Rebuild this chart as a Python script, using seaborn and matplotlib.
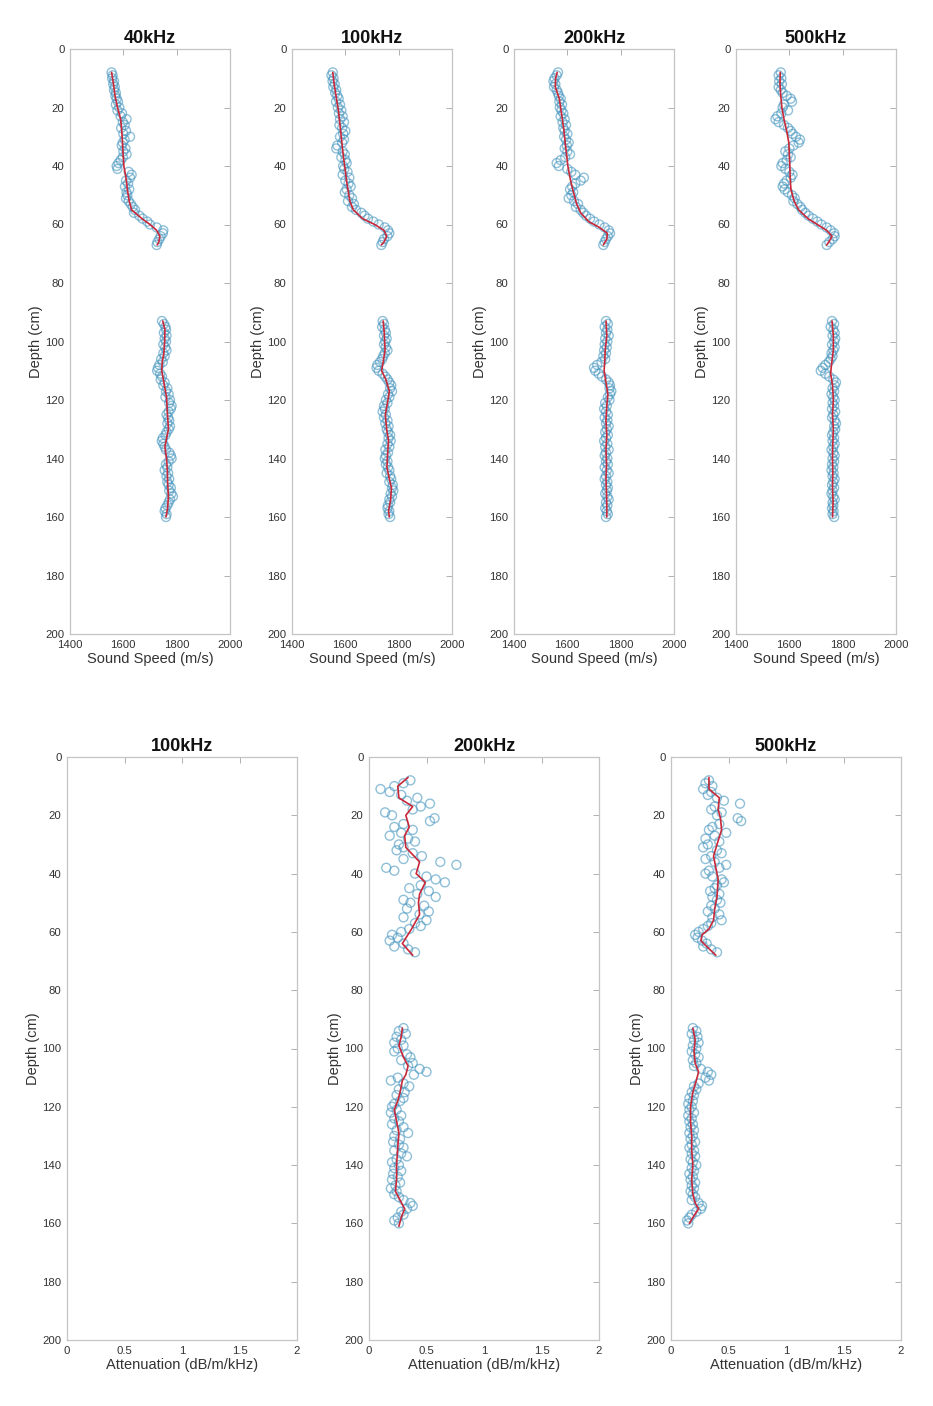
import matplotlib
matplotlib.use("Agg")
import matplotlib.pyplot as plt
import seaborn as sns
import numpy as np

# ---------------- data ----------------
DEPTH_UPPER = [8, 9, 10, 11, 12, 13, 14, 15, 16, 17, 18, 19, 20, 21, 22, 23, 24, 25, 26, 27,
               28, 29, 30, 31, 32, 33, 34, 35, 36, 37, 38, 39, 40, 41, 42, 43, 44, 45, 46, 47,
               48, 49, 50, 51, 52, 53, 54, 55, 56, 57, 58, 59, 60, 61, 62, 63, 64, 65, 66, 67]
DEPTH_LOWER = [93, 94, 95, 96, 97, 98, 99, 100, 101, 102, 103, 104, 105, 106, 107, 108, 109,
               110, 111, 112, 113, 114, 115, 116, 117, 118, 119, 120, 121, 122, 123, 124, 125,
               126, 127, 128, 129, 130, 131, 132, 133, 134, 135, 136, 137, 138, 139, 140, 141,
               142, 143, 144, 145, 146, 147, 148, 149, 150, 151, 152, 153, 154, 155, 156, 157,
               158, 159, 160]

SPEED_TITLES = ["40kHz", "100kHz", "200kHz", "500kHz"]
ATT_TITLES = ["100kHz", "200kHz", "500kHz"]

# Sound speed scatter (m/s)
ss40_up = [1556, 1560, 1558, 1565, 1562, 1568, 1565, 1572, 1570, 1575, 1580, 1572, 1585, 1578, 1595, 1590, 1612, 1598, 1605, 1592,
           1610, 1600, 1625, 1605, 1598, 1594, 1608, 1600, 1612, 1598, 1590, 1582, 1575, 1578, 1620, 1631, 1625, 1610, 1618, 1606,
           1622, 1612, 1615, 1610, 1620, 1628, 1635, 1644, 1640, 1660, 1672, 1690, 1700, 1725, 1750, 1748, 1740, 1735, 1728, 1725]
ss40_lo = [1745, 1752, 1758, 1760, 1752, 1762, 1755, 1760, 1750, 1757, 1762, 1750, 1755, 1742, 1748, 1735, 1730, 1727, 1738, 1745,
           1740, 1755, 1750, 1765, 1760, 1770, 1758, 1775, 1772, 1781, 1778, 1770, 1762, 1768, 1772, 1765, 1775, 1770, 1762, 1758,
           1748, 1744, 1750, 1755, 1760, 1772, 1778, 1781, 1770, 1760, 1765, 1755, 1768, 1762, 1772, 1765, 1770, 1778, 1772, 1780,
           1786, 1775, 1770, 1765, 1758, 1755, 1762, 1760]
ss100_up = [1553, 1548, 1556, 1552, 1560, 1555, 1566, 1562, 1570, 1575, 1565, 1580, 1572, 1585, 1576, 1590, 1580, 1595, 1578, 1588,
            1600, 1592, 1580, 1595, 1588, 1570, 1566, 1590, 1598, 1585, 1600, 1605, 1592, 1596, 1608, 1590, 1615, 1600, 1612, 1620,
            1605, 1598, 1615, 1625, 1610, 1632, 1625, 1640, 1660, 1672, 1685, 1705, 1725, 1748, 1760, 1765, 1758, 1745, 1740, 1735]
ss100_lo = [1740, 1745, 1738, 1748, 1752, 1745, 1755, 1750, 1745, 1752, 1758, 1748, 1742, 1738, 1730, 1720, 1717, 1725, 1740, 1750,
            1758, 1765, 1772, 1768, 1775, 1760, 1765, 1752, 1758, 1745, 1748, 1740, 1752, 1745, 1758, 1750, 1762, 1755, 1760, 1768,
            1762, 1770, 1758, 1765, 1750, 1760, 1752, 1748, 1758, 1752, 1760, 1765, 1755, 1768, 1772, 1765, 1778, 1775, 1780, 1770,
            1775, 1765, 1768, 1760, 1758, 1765, 1762, 1768]
ss200_up = [1565, 1560, 1552, 1548, 1555, 1550, 1560, 1565, 1568, 1575, 1570, 1580, 1572, 1578, 1585, 1575, 1590, 1582, 1595, 1585,
            1590, 1600, 1588, 1595, 1605, 1598, 1590, 1600, 1610, 1592, 1575, 1560, 1568, 1600, 1615, 1630, 1662, 1650, 1630, 1618,
            1610, 1622, 1615, 1605, 1625, 1640, 1632, 1650, 1660, 1670, 1685, 1700, 1720, 1740, 1755, 1760, 1752, 1745, 1740, 1735]
ss200_lo = [1745, 1752, 1740, 1750, 1745, 1755, 1742, 1750, 1740, 1748, 1738, 1745, 1735, 1742, 1728, 1712, 1700, 1705, 1718, 1730,
            1745, 1755, 1760, 1758, 1765, 1760, 1752, 1758, 1742, 1748, 1738, 1745, 1752, 1740, 1750, 1745, 1755, 1748, 1742, 1752,
            1745, 1738, 1750, 1742, 1755, 1745, 1740, 1750, 1745, 1752, 1740, 1748, 1755, 1745, 1740, 1750, 1745, 1752, 1748, 1742,
            1750, 1755, 1745, 1750, 1742, 1748, 1752, 1745]
ss500_up = [1568, 1560, 1570, 1562, 1572, 1560, 1568, 1575, 1590, 1605, 1610, 1580, 1575, 1595, 1570, 1555, 1548, 1560, 1580, 1595,
            1605, 1612, 1625, 1640, 1635, 1615, 1600, 1585, 1595, 1605, 1590, 1575, 1570, 1585, 1600, 1612, 1605, 1590, 1580, 1575,
            1582, 1595, 1610, 1620, 1615, 1630, 1642, 1648, 1660, 1672, 1688, 1705, 1720, 1740, 1755, 1768, 1770, 1762, 1750, 1740]
ss500_lo = [1760, 1768, 1755, 1765, 1770, 1762, 1772, 1768, 1760, 1770, 1765, 1758, 1762, 1755, 1748, 1735, 1725, 1718, 1735, 1750,
            1765, 1775, 1770, 1762, 1768, 1758, 1765, 1770, 1762, 1768, 1760, 1772, 1765, 1760, 1770, 1775, 1768, 1772, 1765, 1760,
            1768, 1762, 1770, 1765, 1758, 1765, 1770, 1762, 1768, 1760, 1765, 1758, 1766, 1762, 1770, 1765, 1760, 1768, 1762, 1758,
            1765, 1770, 1762, 1765, 1760, 1766, 1762, 1768]

# Smoothed sound speed curves (depth nodes, values)
ln40_up_d = [8, 12, 16, 20, 24, 28, 32, 36, 40, 44, 48, 52, 55, 58, 60, 62, 64, 66, 67]
ln40_up_v = [1556, 1563, 1569, 1578, 1590, 1594, 1597, 1599, 1602, 1610, 1615, 1622, 1631, 1670, 1700, 1725, 1737, 1733, 1727]
ln40_lo_d = [93, 96, 100, 104, 107, 110, 114, 119, 124, 130, 136, 140, 144, 148, 153, 157, 160]
ln40_lo_v = [1748, 1756, 1755, 1752, 1746, 1744, 1752, 1762, 1765, 1769, 1756, 1762, 1765, 1766, 1769, 1766, 1760]
ln100_up_d = [8, 12, 16, 21, 26, 32, 37, 41, 46, 52, 55, 58, 60, 62, 64, 66, 67]
ln100_up_v = [1553, 1558, 1565, 1574, 1580, 1587, 1593, 1599, 1606, 1617, 1630, 1665, 1710, 1745, 1755, 1745, 1735]
ln100_lo_d = [93, 97, 103, 107, 110, 113, 117, 121, 125, 130, 134, 139, 143, 147, 150, 154, 158, 160]
ln100_lo_v = [1742, 1746, 1749, 1742, 1736, 1752, 1765, 1758, 1750, 1755, 1762, 1758, 1756, 1765, 1773, 1770, 1762, 1765]
ln200_up_d = [8, 10, 13, 17, 22, 27, 32, 36, 40, 44, 48, 53, 56, 59, 61, 63, 65, 67]
ln200_up_v = [1562, 1556, 1555, 1570, 1578, 1586, 1592, 1597, 1602, 1610, 1620, 1635, 1650, 1680, 1720, 1750, 1748, 1735]
ln200_lo_d = [93, 98, 103, 107, 110, 114, 118, 122, 127, 132, 137, 142, 147, 152, 156, 160]
ln200_lo_v = [1745, 1748, 1742, 1740, 1738, 1745, 1752, 1748, 1745, 1748, 1745, 1747, 1745, 1747, 1748, 1748]
ln500_up_d = [8, 12, 16, 20, 24, 28, 32, 36, 40, 44, 48, 52, 55, 58, 60, 62, 64, 66, 67]
ln500_up_v = [1566, 1565, 1568, 1572, 1580, 1590, 1598, 1600, 1602, 1603, 1606, 1618, 1635, 1670, 1705, 1740, 1760, 1748, 1740]
ln500_lo_d = [93, 98, 103, 108, 111, 115, 120, 125, 130, 135, 140, 145, 150, 155, 160]
ln500_lo_v = [1760, 1765, 1765, 1758, 1755, 1762, 1765, 1762, 1765, 1763, 1762, 1763, 1762, 1764, 1762]

# Attenuation scatter (dB/m/kHz)
at200_up = [0.36, 0.30, 0.22, 0.10, 0.18, 0.28, 0.42, 0.33, 0.53, 0.45, 0.38, 0.14, 0.20, 0.57, 0.53, 0.30, 0.22, 0.38, 0.28, 0.18,
            0.34, 0.40, 0.26, 0.30, 0.24, 0.38, 0.46, 0.30, 0.62, 0.76, 0.15, 0.22, 0.40, 0.50, 0.58, 0.66, 0.45, 0.35, 0.52, 0.42,
            0.58, 0.30, 0.36, 0.48, 0.33, 0.52, 0.44, 0.30, 0.50, 0.40, 0.45, 0.35, 0.28, 0.20, 0.25, 0.18, 0.30, 0.22, 0.34, 0.40]
at200_lo = [0.30, 0.26, 0.32, 0.24, 0.28, 0.22, 0.30, 0.25, 0.22, 0.33, 0.36, 0.28, 0.38, 0.34, 0.44, 0.50, 0.39, 0.25, 0.19, 0.30,
            0.35, 0.26, 0.31, 0.24, 0.30, 0.27, 0.22, 0.20, 0.24, 0.19, 0.28, 0.22, 0.26, 0.20, 0.30, 0.24, 0.34, 0.22, 0.27, 0.21,
            0.26, 0.30, 0.22, 0.28, 0.33, 0.24, 0.20, 0.26, 0.22, 0.28, 0.21, 0.25, 0.20, 0.27, 0.23, 0.19, 0.24, 0.22, 0.26, 0.30,
            0.36, 0.38, 0.33, 0.28, 0.30, 0.25, 0.22, 0.26]
at500_up = [0.33, 0.30, 0.36, 0.28, 0.35, 0.32, 0.40, 0.46, 0.60, 0.38, 0.35, 0.44, 0.40, 0.58, 0.61, 0.42, 0.36, 0.33, 0.48, 0.38,
            0.30, 0.42, 0.32, 0.28, 0.40, 0.44, 0.35, 0.30, 0.38, 0.48, 0.42, 0.33, 0.30, 0.36, 0.44, 0.46, 0.40, 0.38, 0.34, 0.42,
            0.36, 0.40, 0.43, 0.35, 0.38, 0.32, 0.42, 0.36, 0.44, 0.35, 0.32, 0.28, 0.24, 0.21, 0.23, 0.27, 0.31, 0.28, 0.35, 0.40]
at500_lo = [0.19, 0.22, 0.18, 0.23, 0.20, 0.24, 0.19, 0.22, 0.18, 0.21, 0.24, 0.19, 0.22, 0.20, 0.26, 0.32, 0.35, 0.30, 0.33, 0.24,
            0.20, 0.22, 0.18, 0.20, 0.16, 0.19, 0.15, 0.18, 0.16, 0.20, 0.15, 0.18, 0.16, 0.19, 0.17, 0.20, 0.16, 0.19, 0.17, 0.21,
            0.18, 0.16, 0.20, 0.18, 0.21, 0.17, 0.19, 0.22, 0.18, 0.20, 0.16, 0.19, 0.17, 0.21, 0.18, 0.20, 0.17, 0.19, 0.21, 0.18,
            0.24, 0.27, 0.26, 0.22, 0.18, 0.16, 0.14, 0.15]

ln_at200_up_d = [7, 10, 14, 17, 20, 24, 27, 31, 36, 40, 43, 47, 50, 54, 59, 64, 68]
ln_at200_up_v = [0.34, 0.25, 0.26, 0.38, 0.32, 0.35, 0.31, 0.32, 0.44, 0.41, 0.49, 0.44, 0.43, 0.44, 0.37, 0.29, 0.38]
ln_at200_lo_d = [93, 96, 99, 103, 106, 109, 111, 115, 118, 121, 125, 129, 134, 140, 145, 149, 152, 155, 158, 161]
ln_at200_lo_v = [0.29, 0.28, 0.26, 0.30, 0.34, 0.32, 0.29, 0.27, 0.25, 0.22, 0.24, 0.26, 0.25, 0.24, 0.24, 0.23, 0.27, 0.31, 0.28, 0.26]
ln_at500_up_d = [7, 11, 14, 18, 21, 25, 30, 34, 38, 42, 48, 52, 56, 59, 61, 63, 65, 68]
ln_at500_up_v = [0.33, 0.33, 0.42, 0.41, 0.43, 0.44, 0.40, 0.37, 0.39, 0.41, 0.40, 0.38, 0.37, 0.33, 0.27, 0.26, 0.31, 0.39]
ln_at500_lo_d = [93, 97, 101, 105, 108, 111, 115, 120, 125, 130, 135, 140, 145, 150, 153, 155, 158, 160]
ln_at500_lo_v = [0.19, 0.21, 0.20, 0.21, 0.24, 0.22, 0.19, 0.17, 0.17, 0.18, 0.18, 0.19, 0.18, 0.19, 0.21, 0.24, 0.19, 0.16]

DEPTH_TICKS = [0, 20, 40, 60, 80, 100, 120, 140, 160, 180, 200]
SPEED_TICKS = [1400, 1600, 1800, 2000]
ATT_TICKS = [0, 0.5, 1, 1.5, 2]
ATT_TICK_LABELS = ["0", "0.5", "1", "1.5", "2"]

# ---------------- style ----------------
sns.set_theme(style="white")
plt.rcParams["font.family"] = ["Liberation Sans", "DejaVu Sans"]

W, H = 933, 1406
fig = plt.figure(figsize=(W / 100, H / 100), dpi=100)

PT_COLOR = "#4796bf"
LINE_COLOR = "#c8283a"
SPINE = "#c4c4c4"
TXT = "#333333"


def style_axes(ax, title, xlabel, xticks, xticklabels, xlim):
    ax.set_xlim(*xlim)
    ax.set_ylim(200, 0)
    ax.set_yticks(DEPTH_TICKS)
    ax.set_xticks(xticks)
    ax.set_xticklabels(xticklabels)
    ax.set_title(title, fontsize=13, fontweight="bold", color="#111111", pad=4)
    ax.set_xlabel(xlabel, fontsize=10.5, color=TXT, labelpad=2)
    ax.set_ylabel("Depth (cm)", fontsize=10.5, color=TXT, labelpad=2)
    for s in ax.spines.values():
        s.set_color(SPINE)
        s.set_linewidth(0.9)
    ax.tick_params(direction="in", length=4, width=0.7, color="#b0b0b0",
                   labelsize=8.2, labelcolor=TXT, top=True, right=True, pad=4)
    ax.grid(False)


def draw(ax, d_up, v_up, d_lo, v_lo, ld_up, lv_up, ld_lo, lv_lo):
    for d, v in ((d_up, v_up), (d_lo, v_lo)):
        sns.scatterplot(x=v, y=d, ax=ax, marker="o", s=42, facecolor="none",
                        edgecolor=PT_COLOR, linewidth=1.0, alpha=0.6, legend=False)
    for d, v in ((ld_up, lv_up), (ld_lo, lv_lo)):
        sns.lineplot(x=v, y=d, ax=ax, sort=False, estimator=None, color=LINE_COLOR,
                     linewidth=1.2, legend=False)


# top row: sound speed
top_left = [70, 292, 514, 736]
speed_sets = [
    (ss40_up, ss40_lo, ln40_up_d, ln40_up_v, ln40_lo_d, ln40_lo_v),
    (ss100_up, ss100_lo, ln100_up_d, ln100_up_v, ln100_lo_d, ln100_lo_v),
    (ss200_up, ss200_lo, ln200_up_d, ln200_up_v, ln200_lo_d, ln200_lo_v),
    (ss500_up, ss500_lo, ln500_up_d, ln500_up_v, ln500_lo_d, ln500_lo_v),
]
for i, (title, ds) in enumerate(zip(SPEED_TITLES, speed_sets)):
    ax = fig.add_axes([top_left[i] / W, 1 - 634 / H, 160 / W, 585 / H])
    up, lo, ldu, lvu, ldl, lvl = ds
    draw(ax, DEPTH_UPPER, up, DEPTH_LOWER, lo, ldu, lvu, ldl, lvl)
    style_axes(ax, title, "Sound Speed (m/s)", SPEED_TICKS,
               [str(t) for t in SPEED_TICKS], (1400, 2000))

# bottom row: attenuation
bot_left = [67, 369, 671]
att_sets = [
    None,
    (at200_up, at200_lo, ln_at200_up_d, ln_at200_up_v, ln_at200_lo_d, ln_at200_lo_v),
    (at500_up, at500_lo, ln_at500_up_d, ln_at500_up_v, ln_at500_lo_d, ln_at500_lo_v),
]
for i, (title, ds) in enumerate(zip(ATT_TITLES, att_sets)):
    ax = fig.add_axes([bot_left[i] / W, 1 - 1340 / H, 230 / W, 583 / H])
    if ds is not None:
        up, lo, ldu, lvu, ldl, lvl = ds
        draw(ax, DEPTH_UPPER, up, DEPTH_LOWER, lo, ldu, lvu, ldl, lvl)
    style_axes(ax, title, "Attenuation (dB/m/kHz)", ATT_TICKS, ATT_TICK_LABELS, (0, 2))

fig.savefig("out.png", dpi=100, facecolor="white")
